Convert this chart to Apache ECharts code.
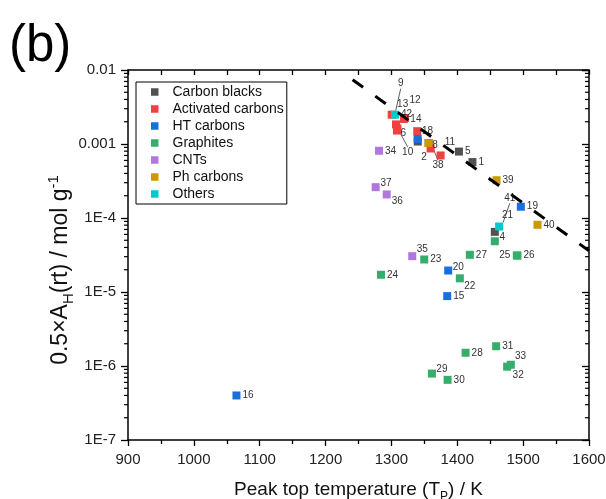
<!DOCTYPE html>
<html>
<head>
<meta charset="utf-8">
<script src="https://cdn.jsdelivr.net/npm/echarts@6/dist/echarts.min.js"></script>
<style>
  html, body { margin: 0; padding: 0; background: #fff; }
  #chart { width: 606px; height: 499px; }
</style>
</head>
<body>
<div id="chart"></div>
<script>
// ---- data: [peak top temperature / K, 0.5*A_H(rt) / mol g^-1] ----
const seriesNames = ['Carbon blacks', 'Activated carbons', 'HT carbons', 'Graphites', 'CNTs', 'Ph carbons', 'Others'];

const carbonBlacks    = [[1423, 5.7e-4], [1356.5, 1.03e-3], [1340, 1.08e-3], [1457, 6.5e-5], [1402.5, 7.9e-4]];
const carbonBlackIds  = ['1', '2', '3', '4', '5'];

const activatedCarbons   = [[1300.4, 2.49e-3], [1306.9, 1.84e-3], [1309.2, 1.62e-3], [1308.4, 1.52e-3],
                            [1320.5, 2.25e-3], [1319, 2.18e-3], [1339.2, 1.49e-3], [1359.5, 8.7e-4], [1374.7, 7.0e-4]];
const activatedCarbonIds = ['9', '13', '6', '10', '14', '12', '7', '8', '11'];

const htCarbons   = [[1384.7, 8.8e-6], [1064.7, 4.0e-7], [1339.8, 1.17e-3], [1496.5, 1.42e-4], [1386.2, 1.95e-5]];
const htCarbonIds = ['15', '16', '18', '19', '20'];

const graphites   = [[1457, 4.85e-5], [1403.9, 1.53e-5], [1349.8, 2.75e-5], [1284.1, 1.71e-5], [1490.4, 3.11e-5],
                     [1491.4, 3.11e-5], [1419.1, 3.18e-5], [1412.6, 1.51e-6], [1361.5, 7.9e-7], [1385.3, 6.5e-7],
                     [1459, 1.85e-6], [1475.7, 9.8e-7], [1481.3, 1.04e-6]];
const graphiteIds = ['21', '22', '23', '24', '25', '26', '27', '28', '29', '30', '31', '32', '33'];

const cnts   = [[1281.1, 8.1e-4], [1331.6, 3.05e-5], [1292.8, 2.08e-4], [1276.1, 2.61e-4]];
const cntIds = ['34', '35', '36', '37'];

const phCarbons   = [[1356.5, 1.03e-3], [1459.6, 3.24e-4], [1521.8, 8.1e-5]];
const phCarbonIds = ['38', '39', '40'];

const others   = [[1463.5, 7.67e-5], [1305.4, 2.49e-3]];
const otherIds = ['41', '42'];

// dashed guide line (two end points)
const trendLine = [[1241, 7.4e-3], [1600, 3.6e-5]];

// axis ranges and log minor tick values
const xMin = 900, xMax = 1600, xStep = 100;
const yMin = 1e-7, yMax = 0.01;
const yMinorTicks = [2e-7, 3e-7, 4e-7, 5e-7, 6e-7, 7e-7, 8e-7, 9e-7,
                     2e-6, 3e-6, 4e-6, 5e-6, 6e-6, 7e-6, 8e-6, 9e-6,
                     2e-5, 3e-5, 4e-5, 5e-5, 6e-5, 7e-5, 8e-5, 9e-5,
                     2e-4, 3e-4, 4e-4, 5e-4, 6e-4, 7e-4, 8e-4, 9e-4,
                     2e-3, 3e-3, 4e-3, 5e-3, 6e-3, 7e-3, 8e-3, 9e-3];

// ---- styling ----
const seriesColors = ['#515151', '#F14040', '#1A6FDF', '#37AD6B', '#B177DE', '#CC9900', '#00CBCC'];
const FONT = '"Liberation Sans", Arial, Helvetica, sans-serif';

// label placement (text centre relative to the square centre, px)
const labelOffsets = {
  '9': [9, -31], '13': [6.7, -20], '6': [5.8, 4.7], '10': [10.7, 21.3], '12': [11, -18.5], '14': [11, 1.2],
  '8': [4.3, -3], '11': [9.3, -13], '2': [-4.7, 14.3], '4': [7.5, 5.5], '18': [9.8, -7.3], '20': [10, -3.3],
  '21': [12.7, -25.7], '22': [10, 8], '25': [-12, 0], '29': [10, -4], '32': [11, 8.3], '33': [9.7, -8.3],
  '35': [10, -7.4], '36': [10.6, 6.7], '37': [10.3, -3.7], '38': [9.3, 22.3], '41': [10.7, -28.3]
};
const leaderIds = ['9', '10', '38', '41'];
const unlabeledIds = ['3', '7'];

function scatterSeries(idx, pts, ids) {
  return {
    name: seriesNames[idx],
    type: 'scatter',
    symbol: 'rect',
    symbolSize: 8,
    z: 2,
    itemStyle: { color: seriesColors[idx], opacity: 1 },
    label: {
      show: true, position: 'right', distance: 2,
      formatter: p => p.name,
      fontSize: 10, fontFamily: FONT, color: '#333'
    },
    labelLine: { show: false, lineStyle: { color: '#333', width: 0.8 } },
    labelLayout: p => {
      const off = labelOffsets[p.text];
      return off ? { dx: off[0], dy: off[1] } : {};
    },
    emphasis: { disabled: true },
    data: pts.map((p, k) => {
      const id = ids[k];
      const item = { value: p, name: id };
      if (unlabeledIds.includes(id)) item.label = { show: false };
      else if (labelOffsets[id]) item.label = { position: 'inside' };
      if (leaderIds.includes(id)) item.labelLine = { show: true };
      return item;
    })
  };
}

function yLabel(v) {
  const e = Math.round(Math.log10(v));
  return e >= -3 ? v.toFixed(-e) : '1E' + e;
}

const axisLineStyle = { color: '#000', width: 1.5 };
const chart = echarts.init(document.getElementById('chart'), null, { renderer: 'canvas' });

chart.setOption({
  animation: false,
  backgroundColor: '#fff',
  textStyle: { fontFamily: FONT },
  grid: { left: 128, right: 17, top: 70, bottom: 59, containLabel: false, outerBoundsMode: 'none' },
  legend: {
    data: seriesNames.map(n => ({ name: n, icon: 'rect' })),
    orient: 'vertical',
    left: 136, top: 82,
    padding: [3, 3, 3, 15],
    itemWidth: 7.5, itemHeight: 7.5, itemGap: 3,
    borderColor: '#000', borderWidth: 1,
    textStyle: { fontSize: 14, color: '#111', fontFamily: FONT, padding: [0, 0, 0, 9] },
    selectedMode: false
  },
  xAxis: [{
    type: 'value', min: xMin, max: xMax, interval: xStep, position: 'bottom',
    name: 'Peak top temperature (T{sub|P}) / K',
    nameLocation: 'middle', nameGap: 37,
    nameTextStyle: {
      fontSize: 19, color: '#111', fontFamily: FONT, lineHeight: 26,
      rich: { sub: { fontSize: 12, verticalAlign: 'bottom', lineHeight: 12, fontFamily: FONT, color: '#111' } }
    },
    axisLine: { lineStyle: axisLineStyle },
    axisTick: { inside: false, length: 6, lineStyle: { color: '#000', width: 1.3 } },
    minorTick: { show: true, splitNumber: 2, length: 4, lineStyle: { color: '#000', width: 1.3 } },
    axisLabel: { fontSize: 15, color: '#222', margin: 12, fontFamily: FONT, formatter: v => String(v) },
    splitLine: { show: false }
  }, {
    type: 'value', min: xMin, max: xMax, interval: xStep, position: 'top',
    axisLine: { lineStyle: axisLineStyle },
    axisTick: { inside: true, length: 5, lineStyle: { color: '#000', width: 1.3 } },
    minorTick: { show: true, splitNumber: 2, length: 5, lineStyle: { color: '#000', width: 1.3 } },
    axisLabel: { show: false },
    splitLine: { show: false }
  }],
  yAxis: [{
    type: 'log', logBase: 10, min: yMin, max: yMax, position: 'left',
    axisLine: { lineStyle: axisLineStyle },
    axisTick: { inside: false, length: 7, lineStyle: { color: '#000', width: 1.3 } },
    axisLabel: { fontSize: 15, color: '#222', margin: 12, fontFamily: FONT, formatter: yLabel },
    splitLine: { show: false }
  }, {
    type: 'log', logBase: 10, min: yMin, max: yMax, position: 'right',
    axisLine: { lineStyle: axisLineStyle },
    axisTick: { inside: true, length: 7, lineStyle: { color: '#000', width: 1.3 } },
    axisLabel: { show: false },
    splitLine: { show: false }
  }],
  graphic: [{
    type: 'text', x: 9, y: 47,
    style: { text: '(b)', font: '51px ' + FONT, fill: '#000', verticalAlign: 'middle' }
  }, {
    // y-axis title, read bottom to top
    type: 'text', x: 61, y: 270, rotation: Math.PI / 2,
    style: {
      text: '0.5×A{sub|H}(rt) / mol g{sup|-1}',
      fontSize: 23, fontFamily: FONT, fill: '#111', lineHeight: 30,
      align: 'center', verticalAlign: 'middle',
      rich: {
        sub: { fontSize: 15, verticalAlign: 'bottom', lineHeight: 15, fontFamily: FONT, fill: '#111' },
        sup: { fontSize: 15, verticalAlign: 'top', lineHeight: 15, fontFamily: FONT, fill: '#111' }
      }
    }
  }],
  series: [
    scatterSeries(0, carbonBlacks, carbonBlackIds),
    scatterSeries(1, activatedCarbons, activatedCarbonIds),
    scatterSeries(2, htCarbons, htCarbonIds),
    scatterSeries(3, graphites, graphiteIds),
    scatterSeries(4, cnts, cntIds),
    scatterSeries(5, phCarbons, phCarbonIds),
    scatterSeries(6, others, otherIds),
    {
      name: 'trend', type: 'line', data: trendLine, symbol: 'none', z: 5, silent: true,
      lineStyle: { color: '#000', width: 3, type: [13, 15], cap: 'butt' }
    },
    {
      // logarithmic minor ticks on the left (outside) and right (inside) frames
      name: 'minor ticks', type: 'custom', silent: true, z: 6, clip: false,
      data: yMinorTicks.map(v => [xMin, v]),
      renderItem: (params, api) => {
        const v = api.value(1);
        const l = api.coord([xMin, v]);
        const r = api.coord([xMax, v]);
        const st = { stroke: '#000', lineWidth: 1.2 };
        return {
          type: 'group',
          children: [
            { type: 'line', shape: { x1: l[0] - 4, y1: l[1], x2: l[0], y2: l[1] }, style: st },
            { type: 'line', shape: { x1: r[0] - 4, y1: r[1], x2: r[0], y2: r[1] }, style: st }
          ]
        };
      }
    }
  ]
});
</script>
</body>
</html>
